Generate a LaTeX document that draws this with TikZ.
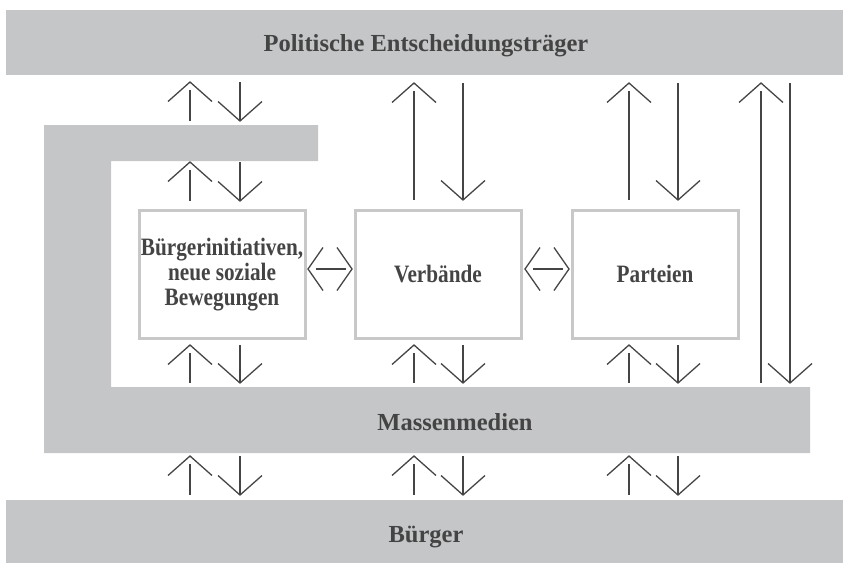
\documentclass[tikz,border=0pt]{standalone}
\usepackage{fontspec}
\setmainfont{Liberation Serif}
\newfontfamily\boxfont{Liberation Serif}[FakeStretch=0.85]
\usetikzlibrary{calc}

\definecolor{barfill}{HTML}{C5C6C8}
\definecolor{boxline}{HTML}{C8C8C8}
\definecolor{ink}{HTML}{444444}
\definecolor{arrowink}{HTML}{454545}

\tikzset{
  bar/.style={fill=barfill, draw=none},
  barlabel/.style={text=ink, anchor=base, inner sep=0pt,
    font=\fontsize{24.5}{25}\selectfont\bfseries},
  actor/.style={draw=boxline, line width=3pt, minimum width=166pt,
    minimum height=128.5pt, inner sep=0pt, text=ink, align=center,
    font=\boxfont\fontsize{25}{25}\selectfont\bfseries},
  flow/.style={draw=arrowink, line width=1.3pt},
}

% upward arrow: x, tip y, tail y
\newcommand\uparr[3]{%
  \draw[flow] (#1-22,#2+19.5) -- (#1,#2) -- (#1+22,#2+19.5);
  \draw[flow] (#1,#2+8) -- (#1,#3);}
% downward arrow: x, tail y, tip y
\newcommand\downarr[3]{%
  \draw[flow] (#1-22,#3-19.5) -- (#1,#3) -- (#1+22,#3-19.5);
  \draw[flow] (#1,#2) -- (#1,#3);}
% pair of opposite arrows: up x, down x, top y, bottom y
\newcommand\arrpair[4]{\uparr{#1}{#3}{#4}\downarr{#2}{#3}{#4}}
% horizontal double arrow: left tip x, right tip x, y
\newcommand\dblarr[3]{%
  \draw[flow] (#1+15,#3-21.5) -- (#1,#3) -- (#1+15,#3+21.5);
  \draw[flow] (#2-15,#3-21.5) -- (#2,#3) -- (#2-15,#3+21.5);
  \draw[flow] (#1+8,#3) -- (#2-6,#3);}

\begin{document}
\begin{tikzpicture}[x=1pt,y=-1pt]
\useasboundingbox (0,0) rectangle (843,563);

% horizontal bars
\fill[bar] (6,10) rectangle (843,75);
\fill[bar] (6,500) rectangle (843,563);
% media band wrapping round the left side
\fill[bar] (44,125) -- (318,125) -- (318,161) -- (111,161) -- (111,387)
  -- (810,387) -- (810,453) -- (44,453) -- cycle;

\node[barlabel] (pol) at (426,51) {Politische Entscheidungsträger};
\node[barlabel] (med) at (455,430) {Massenmedien};
\node[barlabel] (buerger) at (426,542) {Bürger};

% intermediary organisations
\node[actor] (bi)  at (222,274.25) {Bürgerinitiativen,\\neue soziale\\Bewegungen};
\node[actor] (vb)  at (438,274.25) {Verbände};
\node[actor] (pt)  at (655,274.25) {Parteien};

\dblarr{308}{352}{269}
\dblarr{525}{569}{269}

% exchanges with the decision makers
\arrpair{190}{240}{82}{121}
\arrpair{190}{240}{162}{201}
\arrpair{414}{463}{83}{200}
\arrpair{629}{678}{83}{200}
\arrpair{761}{790}{83}{383}

% exchanges with the mass media
\arrpair{190}{240}{345}{383}
\arrpair{414}{463}{345}{383}
\arrpair{629}{678}{345}{383}

% exchanges with the citizens
\arrpair{190}{240}{456}{495}
\arrpair{414}{463}{456}{495}
\arrpair{629}{678}{456}{495}
\end{tikzpicture}
\end{document}
